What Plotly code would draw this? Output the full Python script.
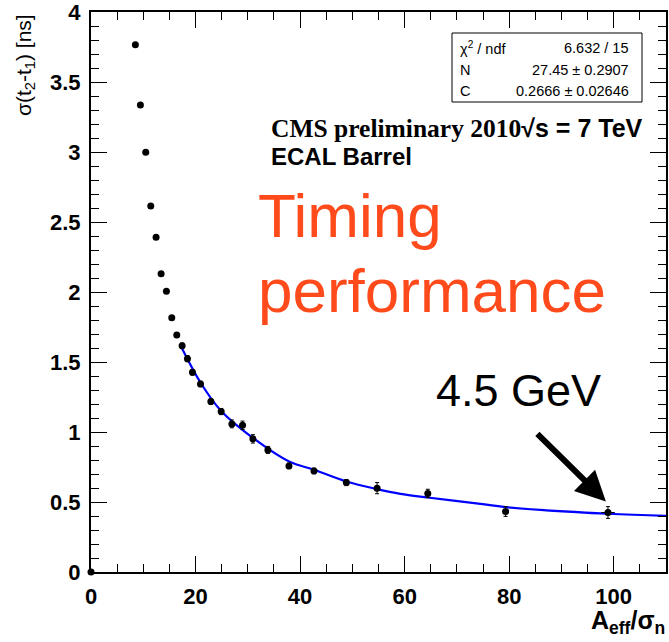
import plotly.graph_objects as go

# ---- data ----
a_over_sigma = [0, 8.49, 9.45, 10.47, 11.43, 12.45, 13.41, 14.43, 15.45, 16.41, 17.43,
                18.45, 19.41, 20.95, 22.93, 24.9, 26.95, 28.99, 30.97, 33.84, 37.87,
                42.66, 48.85, 54.73, 64.43, 79.31, 98.9]
sigma_ns = [0, 3.766, 3.335, 2.998, 2.615, 2.392, 2.130, 2.006, 1.816, 1.693, 1.616,
            1.524, 1.426, 1.343, 1.217, 1.146, 1.058, 1.048, 0.951, 0.872, 0.758,
            0.722, 0.639, 0.599, 0.561, 0.432, 0.425]
sigma_err = [0, 0.008, 0.008, 0.008, 0.008, 0.008, 0.008, 0.01, 0.012, 0.015, 0.02,
             0.022, 0.02, 0.02, 0.02, 0.022, 0.028, 0.03, 0.03, 0.025, 0.02,
             0.02, 0.022, 0.04, 0.03, 0.035, 0.042]
x_err = [0] * 26 + [1.3]

# fit curve samples
fit_x = [17.4, 21.0, 24.9, 31.0, 37.9, 42.7, 48.9, 54.7, 59.2, 64.4, 74.5, 79.3, 98.9, 110.0]
fit_y = [1.598, 1.35, 1.15, 0.957, 0.789, 0.730, 0.646, 0.592, 0.558, 0.532, 0.487, 0.464, 0.416, 0.401]

x_ticks = [0, 20, 40, 60, 80, 100]
y_ticks = [0, 0.5, 1, 1.5, 2, 2.5, 3, 3.5, 4]
y_tick_labels = ["0", "0.5", "1", "1.5", "2", "2.5", "3", "3.5", "4"]

stats_labels = ["χ<sup>2</sup> / ndf", "N", "C"]
stats_values = ["6.632 / 15", "27.45 ± 0.2907", "0.2666 ± 0.02646"]

W, H = 669, 642
L, R, T, B = 91, 3, 12, 70
PW, PH = W - L - R, H - T - B


def px(xp):
    return (xp - L) / PW


def py(yp):
    return (H - B - yp) / PH


SANS = "Liberation Sans, Arial, Helvetica, sans-serif"
SERIF = "Liberation Serif, Times New Roman, serif"

fig = go.Figure()

fig.add_trace(go.Scatter(
    x=fit_x, y=fit_y, mode="lines",
    line=dict(color="#0000ff", width=2.2, shape="spline"),
    hoverinfo="skip", showlegend=False))

fig.add_trace(go.Scatter(
    x=a_over_sigma, y=sigma_ns, mode="markers",
    marker=dict(color="black", size=7),
    error_y=dict(type="data", array=sigma_err, color="black", thickness=1, width=2),
    error_x=dict(type="data", array=x_err, color="black", thickness=1, width=0),
    cliponaxis=False,
    showlegend=False))

axis_common = dict(
    showline=True, linecolor="black", linewidth=2, mirror="ticks",
    ticks="inside", tickcolor="black", tickwidth=1, ticklen=16,
    showgrid=False, zeroline=False, automargin=False,
    tickfont=dict(family=SANS, size=22, color="black", weight="bold"),
)

fig.update_xaxes(range=[0, 110], tickvals=x_ticks, ticktext=[str(v) for v in x_ticks],
                 minor=dict(dtick=5, ticklen=8, ticks="inside", tickcolor="black", tickwidth=1),
                 ticklabelstandoff=4, **axis_common)
fig.update_yaxes(range=[0, 4.0001], tickvals=y_ticks, ticktext=y_tick_labels,
                 minor=dict(dtick=0.1, ticklen=8, ticks="inside", tickcolor="black", tickwidth=1),
                 ticklabelstandoff=4, ticklabeloverflow="allow", **axis_common)

ann = []
# axis titles
ann.append(dict(text="σ(t<sub>2</sub>-t<sub>1</sub>) [ns]", textangle=-90,
                x=px(25), y=py(12), xref="paper", yref="paper",
                xanchor="center", yanchor="top", showarrow=False,
                font=dict(family=SANS, size=21, color="black")))
ann.append(dict(text="<b>A<sub>eff</sub>/σ<sub>n</sub></b>",
                x=px(667), y=py(622), xref="paper", yref="paper",
                xanchor="right", yanchor="middle", showarrow=False,
                font=dict(family=SANS, size=25, color="black")))

# stats box
fig.add_shape(type="rect", xref="paper", yref="paper",
              x0=px(452), x1=px(642), y0=py(102), y1=py(33),
              line=dict(color="black", width=1), fillcolor="white")
for i, (lab, val) in enumerate(zip(stats_labels, stats_values)):
    yc = [48, 70, 91][i]
    ann.append(dict(text=lab, x=px(458), y=py(yc), xref="paper", yref="paper",
                    xanchor="left", yanchor="middle", showarrow=False,
                    font=dict(family=SANS, size=14.5, color="black")))
    ann.append(dict(text=val, x=px(631), y=py(yc), xref="paper", yref="paper",
                    xanchor="right", yanchor="middle", showarrow=False,
                    font=dict(family=SANS, size=14.5, color="black")))

# CMS labels (serif part followed by sans part in one line)
ann.append(dict(text="<b>CMS preliminary 2010</b>"
                     "<span style='font-family:Liberation Sans, Arial, sans-serif;font-size:25px'>"
                     "<b>√s = 7 TeV</b></span>",
                x=px(269), y=py(128),
                xref="paper", yref="paper", xanchor="left", yanchor="middle",
                showarrow=False, font=dict(family=SERIF, size=25.5, color="black")))
ann.append(dict(text="<b>ECAL Barrel</b>", x=px(269), y=py(157),
                xref="paper", yref="paper", xanchor="left", yanchor="middle",
                showarrow=False, font=dict(family=SANS, size=24, color="black")))

# big orange text
ann.append(dict(text="Timing", x=px(256), y=py(215),
                xref="paper", yref="paper", xanchor="left", yanchor="middle",
                showarrow=False, font=dict(family=SANS, size=62, color="#ff4a1c")))
ann.append(dict(text="performance", x=px(256), y=py(290),
                xref="paper", yref="paper", xanchor="left", yanchor="middle",
                showarrow=False, font=dict(family=SANS, size=62, color="#ff4a1c")))

# 4.5 GeV with arrow
ann.append(dict(text="4.5 GeV", x=px(434), y=py(390),
                xref="paper", yref="paper", xanchor="left", yanchor="middle",
                showarrow=False, font=dict(family=SANS, size=45, color="black")))
ann.append(dict(text="", x=98.5, y=0.504, xref="x", yref="y",
                ax=-70, ay=-69, showarrow=True, arrowhead=2, arrowsize=1,
                arrowwidth=6, arrowcolor="black"))

fig.update_layout(
    width=W, height=H,
    margin=dict(l=L, r=R, t=T, b=B),
    paper_bgcolor="white", plot_bgcolor="white",
    annotations=ann,
)

fig.write_html("out.html", config={"displayModeBar": False},
               post_script="document.body.style.margin='0px';")
